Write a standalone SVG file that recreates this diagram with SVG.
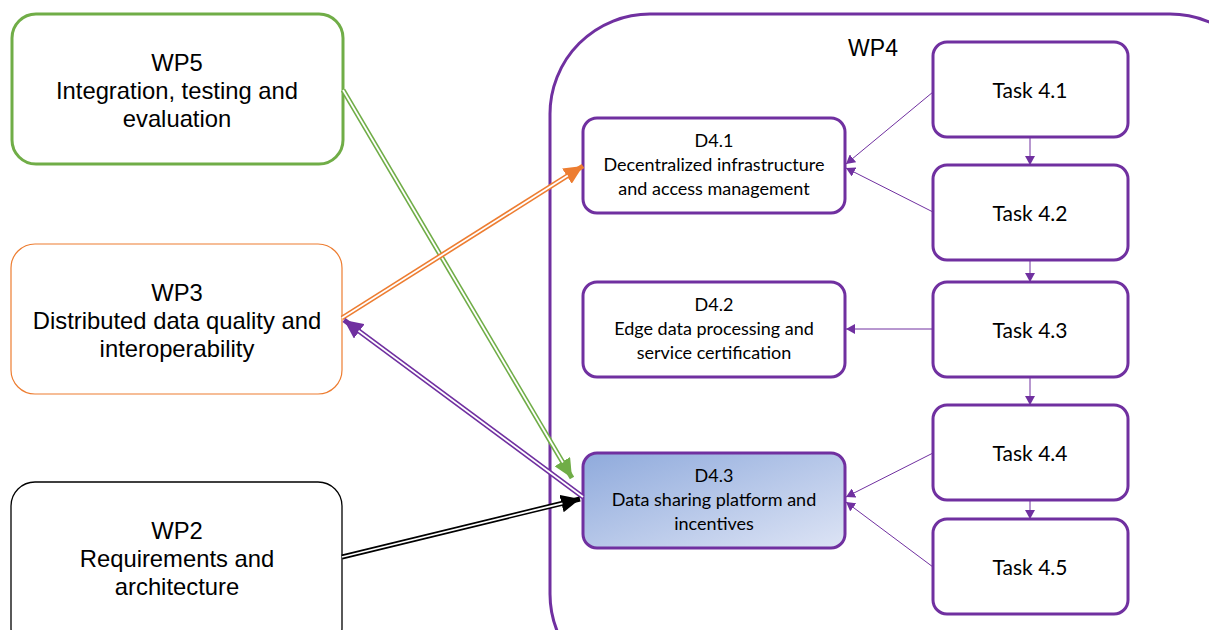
<svg xmlns="http://www.w3.org/2000/svg" width="1209" height="630" viewBox="0 0 1209 630">
<style>
.wp{font-family:"Liberation Sans",Arial,sans-serif;font-size:23.8px;fill:#000;text-anchor:middle}
.d{font-family:Lato,"Open Sans",sans-serif;font-size:18px;fill:#000;text-anchor:middle}
.t{font-family:Lato,"Open Sans",sans-serif;font-size:21px;fill:#000;text-anchor:middle}
.box{fill:#fff;stroke:#7030A0;stroke-width:3}
.thin{stroke:#7030A0;stroke-width:1;fill:none;marker-end:url(#sm)}
.inner{stroke:#fff;stroke-width:1.8;fill:none}
</style>
<defs>
<linearGradient id="g" x1="0" y1="0" x2="1" y2="1">
<stop offset="0" stop-color="#8FAADC"/>
<stop offset="1" stop-color="#DDE4F5"/>
</linearGradient>
<marker id="ag" markerUnits="userSpaceOnUse" markerWidth="20" markerHeight="18" refX="19" refY="9" orient="auto"><path d="M0,0 L19,9 L0,18 Z" fill="#70AD47"/></marker>
<marker id="ao" markerUnits="userSpaceOnUse" markerWidth="20" markerHeight="18" refX="19" refY="9" orient="auto"><path d="M0,0 L19,9 L0,18 Z" fill="#ED7D31"/></marker>
<marker id="ap" markerUnits="userSpaceOnUse" markerWidth="20" markerHeight="18" refX="19" refY="9" orient="auto"><path d="M0,0 L19,9 L0,18 Z" fill="#7030A0"/></marker>
<marker id="ab" markerUnits="userSpaceOnUse" markerWidth="20" markerHeight="18" refX="19" refY="9" orient="auto"><path d="M0,0 L19,9 L0,18 Z" fill="#000"/></marker>
<marker id="sm" markerUnits="userSpaceOnUse" markerWidth="10" markerHeight="10" refX="9" refY="5" orient="auto"><path d="M0,0 L9,5 L0,10 Z" fill="#7030A0"/></marker>
</defs>
<rect width="1209" height="630" fill="#fff"/>
<g id="wp4">
<rect x="550" y="14" width="720" height="680" rx="100" fill="#fff" stroke="#7030A0" stroke-width="3"/>
<text class="wp" x="873" y="56" style="font-size:23px">WP4</text>
</g>
<g id="wp5">
<rect x="12" y="14" width="331" height="150" rx="24" fill="#fff" stroke="#70AD47" stroke-width="3"/>
<text class="wp" x="177" y="71">WP5</text>
<text class="wp" x="177" y="99">Integration, testing and</text>
<text class="wp" x="177" y="127">evaluation</text>
</g>
<g id="wp3">
<rect x="11" y="244" width="331" height="150" rx="24" fill="#fff" stroke="#ED7D31" stroke-width="1.2"/>
<text class="wp" x="177" y="301">WP3</text>
<text class="wp" x="177" y="329">Distributed data quality and</text>
<text class="wp" x="177" y="357">interoperability</text>
</g>
<g id="wp2">
<rect x="11" y="482" width="331" height="170" rx="24" fill="#fff" stroke="#000" stroke-width="1.3"/>
<text class="wp" x="177" y="539">WP2</text>
<text class="wp" x="177" y="567">Requirements and</text>
<text class="wp" x="177" y="595">architecture</text>
</g>
<g id="d41">
<rect class="box" x="583" y="118" width="262" height="95" rx="14"/>
<text class="d" x="714" y="147">D4.1</text>
<text class="d" x="714" y="171">Decentralized infrastructure</text>
<text class="d" x="714" y="195">and access management</text>
</g>
<g id="d42">
<rect class="box" x="583" y="282" width="262" height="95" rx="14"/>
<text class="d" x="714" y="311">D4.2</text>
<text class="d" x="714" y="335">Edge data processing and</text>
<text class="d" x="714" y="359">service certification</text>
</g>
<g id="d43">
<rect x="583" y="453" width="262" height="95" rx="14" fill="url(#g)" stroke="#7030A0" stroke-width="3"/>
<text class="d" x="714" y="482">D4.3</text>
<text class="d" x="714" y="506">Data sharing platform and</text>
<text class="d" x="714" y="530">incentives</text>
</g>
<g id="t41"><rect class="box" x="933" y="42" width="195" height="95" rx="14"/><text class="t" x="1030" y="98">Task 4.1</text></g>
<g id="t42"><rect class="box" x="933" y="165" width="195" height="95" rx="14"/><text class="t" x="1030" y="221">Task 4.2</text></g>
<g id="t43"><rect class="box" x="933" y="282" width="195" height="95" rx="14"/><text class="t" x="1030" y="338">Task 4.3</text></g>
<g id="t44"><rect class="box" x="933" y="405" width="195" height="95" rx="14"/><text class="t" x="1030" y="461">Task 4.4</text></g>
<g id="t45"><rect class="box" x="933" y="519" width="195" height="95" rx="14"/><text class="t" x="1030" y="575">Task 4.5</text></g>
<g id="connectors">
<line x1="343" y1="90" x2="572" y2="478" stroke="#70AD47" stroke-width="5" marker-end="url(#ag)"/>
<line class="inner" x1="343" y1="90" x2="562.9" y2="462.5"/>
<line x1="342" y1="318" x2="583" y2="166" stroke="#ED7D31" stroke-width="5" marker-end="url(#ao)"/>
<line class="inner" x1="342" y1="318" x2="567.8" y2="175.6"/>
<line x1="583" y1="497" x2="344" y2="320" stroke="#7030A0" stroke-width="5" marker-end="url(#ap)"/>
<line class="inner" x1="583" y1="497" x2="358.5" y2="330.7"/>
<line x1="342" y1="557" x2="580" y2="499" stroke="#000" stroke-width="5" marker-end="url(#ab)"/>
<line class="inner" x1="342" y1="557" x2="562.5" y2="503.3"/>
<line class="thin" x1="933" y1="92" x2="846" y2="164"/>
<line class="thin" x1="933" y1="212" x2="846" y2="168"/>
<line class="thin" x1="933" y1="329" x2="846" y2="329"/>
<line class="thin" x1="933" y1="453" x2="846" y2="497"/>
<line class="thin" x1="933" y1="567" x2="846" y2="502"/>
<line class="thin" x1="1030" y1="137" x2="1030" y2="165"/>
<line class="thin" x1="1030" y1="260" x2="1030" y2="282"/>
<line class="thin" x1="1030" y1="377" x2="1030" y2="405"/>
<line class="thin" x1="1030" y1="500" x2="1030" y2="519"/>
</g>
</svg>
